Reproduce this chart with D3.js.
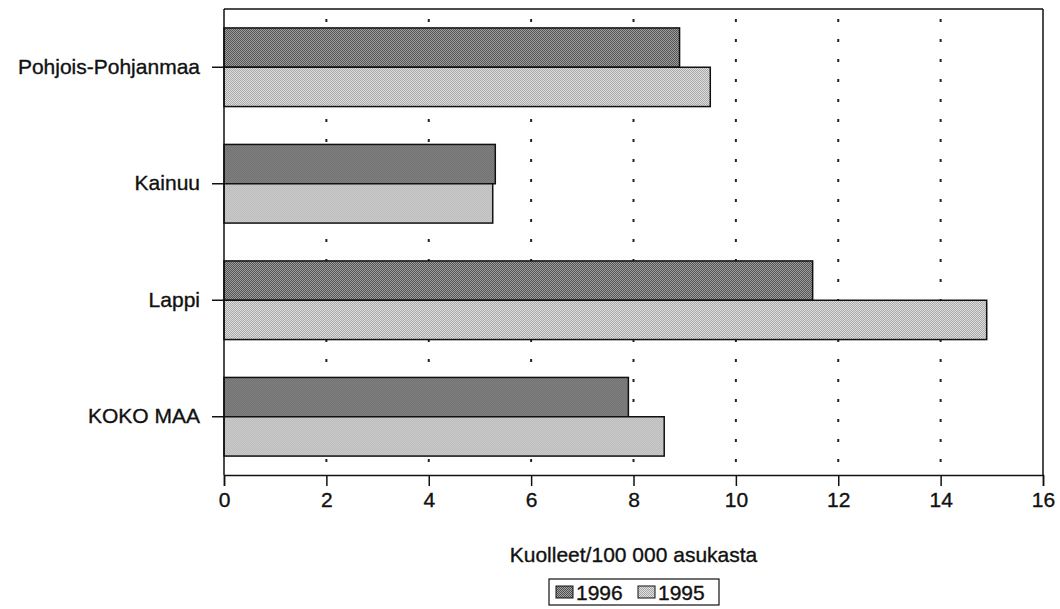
<!DOCTYPE html>
<html>
<head>
<meta charset="utf-8">
<script src="https://cdn.jsdelivr.net/npm/d3@7"></script>
<style>
  html, body { margin: 0; padding: 0; background: #fff; }
  svg { display: block; font-family: "Liberation Sans", Arial, Helvetica, sans-serif; }
</style>
</head>
<body>
<svg id="chart" width="1060" height="609"></svg>
<script>
const categories = ["Pohjois-Pohjanmaa", "Kainuu", "Lappi", "KOKO MAA"];
const seriesNames = ["1996", "1995"];
const values1996 = [8.9, 5.3, 11.5, 7.9];
const values1995 = [9.5, 5.25, 14.9, 8.6];
const xTicks = [0, 2, 4, 6, 8, 10, 12, 14, 16];
const xTitle = "Kuolleet/100 000 asukasta";

const seriesValues = { "1996": values1996, "1995": values1995 };

const svg = d3.select("#chart");
const pLeft = 224, pRight = 1043, pTop = 9, pBottom = 475;
const fontSize = 21;

const x = d3.scaleLinear().domain([0, 16]).range([pLeft, pRight]);
const y0 = d3.scaleBand().domain(categories).range([pTop, pBottom])
  .paddingInner(0.325).paddingOuter(0.1625);
const y1 = d3.scaleBand().domain(seriesNames).range([0, y0.bandwidth()]);

// patterns imitating the dithered greys
const defs = svg.append("defs");
function checker(id, base, dot) {
  const p = defs.append("pattern").attr("id", id).attr("width", 2).attr("height", 2)
    .attr("patternUnits", "userSpaceOnUse");
  p.append("rect").attr("width", 2).attr("height", 2).attr("fill", base);
  p.append("rect").attr("x", 0).attr("y", 0).attr("width", 1).attr("height", 1).attr("fill", dot);
  p.append("rect").attr("x", 1).attr("y", 1).attr("width", 1).attr("height", 1).attr("fill", dot);
}
checker("p1996", "#a2a2a2", "#505050");
checker("p1995", "#e2e2e2", "#a4a4a4");
const fills = { "1996": "url(#p1996)", "1995": "url(#p1995)" };

function styleText(sel) {
  sel.attr("font-size", fontSize).attr("fill", "#111")
    .attr("stroke", "#111").attr("stroke-width", 0.35)
    .attr("font-family", "'Liberation Sans', Arial, sans-serif");
}

// dotted gridlines
svg.append("g").selectAll("line")
  .data(xTicks.filter(t => t > 0 && t < 16))
  .join("line")
  .attr("x1", d => x(d)).attr("x2", d => x(d))
  .attr("y1", pTop + 10).attr("y2", pBottom)
  .attr("stroke", "#222").attr("stroke-width", 2)
  .attr("stroke-dasharray", "3 17");

// frame: top and right lines
svg.append("line").attr("x1", pLeft).attr("x2", pRight).attr("y1", pTop).attr("y2", pTop)
  .attr("stroke", "#111").attr("stroke-width", 1.5);
svg.append("line").attr("x1", pRight).attr("x2", pRight).attr("y1", pTop).attr("y2", pBottom)
  .attr("stroke", "#111").attr("stroke-width", 1.5);

// bars
const groups = svg.append("g").selectAll("g")
  .data(categories)
  .join("g")
  .attr("transform", d => `translate(0,${y0(d)})`);

groups.selectAll("rect")
  .data((c, i) => seriesNames.map(s => ({ s, v: seriesValues[s][i] })))
  .join("rect")
  .attr("x", x(0))
  .attr("y", d => y1(d.s))
  .attr("width", d => x(d.v) - x(0))
  .attr("height", y1.bandwidth())
  .attr("fill", d => fills[d.s])
  .attr("stroke", "#111")
  .attr("stroke-width", 1.5);

// x axis
const xAxis = d3.axisBottom(x).tickValues(xTicks).tickSize(11).tickPadding(6);
const gx = svg.append("g").attr("transform", `translate(0,${pBottom})`).call(xAxis);
gx.select(".domain").attr("stroke", "#111").attr("stroke-width", 1.5);
gx.selectAll(".tick line").attr("stroke", "#111").attr("stroke-width", 1.5);
gx.selectAll(".tick text").call(styleText);

// y axis
const yAxis = d3.axisLeft(y0).tickSize(12).tickPadding(12);
const gy = svg.append("g").attr("transform", `translate(${pLeft},0)`).call(yAxis);
gy.select(".domain").attr("stroke", "#111").attr("stroke-width", 1.5)
  .attr("d", `M-0,${pTop}V${pBottom}`);
gy.selectAll(".tick line").attr("stroke", "#111").attr("stroke-width", 1.5);
gy.selectAll(".tick text").call(styleText);

// axis title
svg.append("text")
  .attr("x", (pLeft + pRight) / 2).attr("y", 562)
  .attr("text-anchor", "middle")
  .call(styleText)
  .text(xTitle);

// legend
const lg = svg.append("g");
lg.append("rect").attr("x", 549).attr("y", 579).attr("width", 170).attr("height", 26)
  .attr("fill", "#fff").attr("stroke", "#111").attr("stroke-width", 1.2);
const legendX = [556, 638];
seriesNames.forEach((s, i) => {
  lg.append("rect").attr("x", legendX[i]).attr("y", 586).attr("width", 17).attr("height", 12)
    .attr("fill", fills[s]).attr("stroke", "#111").attr("stroke-width", 1);
  lg.append("text").attr("x", legendX[i] + 20).attr("y", 600)
    .call(styleText).text(s);
});
</script>
</body>
</html>
